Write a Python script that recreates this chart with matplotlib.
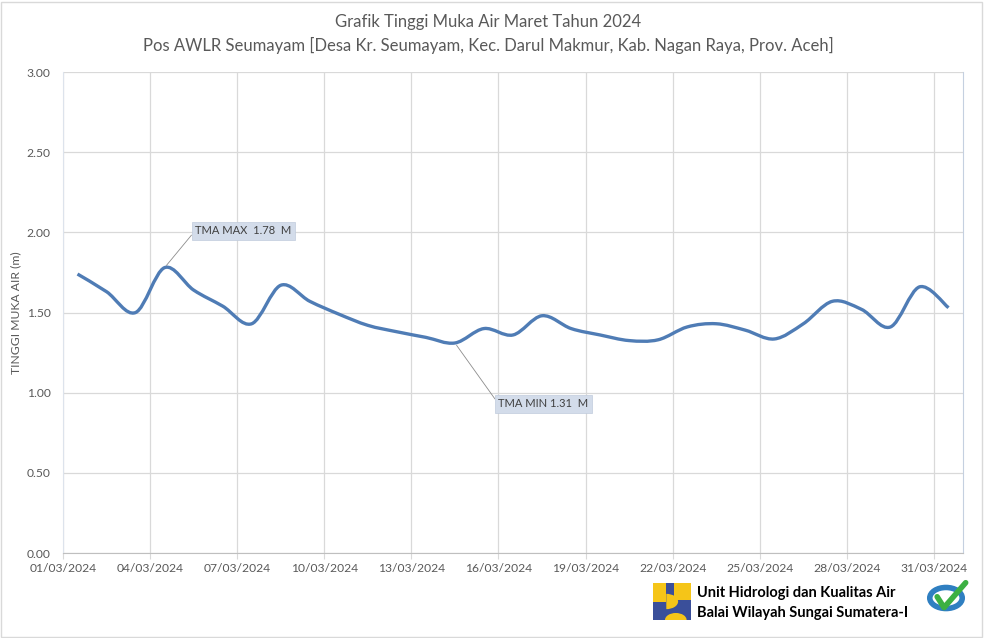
import numpy as np
import matplotlib.pyplot as plt
from matplotlib.path import Path
from matplotlib.patches import PathPatch, Rectangle, Circle, Wedge

# Tinggi muka air harian, Maret 2024 (m)
tma = [1.74, 1.63, 1.50, 1.78, 1.64, 1.54, 1.43, 1.67, 1.57, 1.49,
       1.42, 1.38, 1.345, 1.31, 1.40, 1.36, 1.48, 1.40, 1.36, 1.325,
       1.33, 1.41, 1.43, 1.39, 1.335, 1.43, 1.57, 1.52, 1.41, 1.66, 1.53]
tick_days = list(range(0, 31, 3))
tick_labels = ['%02d/03/2024' % (d + 1) for d in tick_days]
y_ticks = [0.0, 0.5, 1.0, 1.5, 2.0, 2.5, 3.0]

plt.rcParams['font.family'] = ['Lato', 'DejaVu Sans']
grey = '#595959'

fig = plt.figure(figsize=(9.84, 6.38), dpi=100)
ax = fig.add_axes([0.064, 0.1332, 0.9147, 0.7539])

# smoothed line like Excel (Catmull-Rom converted to cubic Bezier)
x = np.arange(len(tma)) + 0.5
y = np.array(tma)
px = np.concatenate([[x[0]], x, [x[-1]]])
py = np.concatenate([[y[0]], y, [y[-1]]])
verts = [(x[0], y[0])]
codes = [Path.MOVETO]
for i in range(len(x) - 1):
    c1 = (px[i + 1] + (px[i + 2] - px[i]) / 6, py[i + 1] + (py[i + 2] - py[i]) / 6)
    c2 = (px[i + 2] - (px[i + 3] - px[i + 1]) / 6, py[i + 2] - (py[i + 3] - py[i + 1]) / 6)
    verts += [c1, c2, (x[i + 1], y[i + 1])]
    codes += [Path.CURVE4] * 3
ax.add_patch(PathPatch(Path(verts, codes), fill=False, edgecolor='#4f7cb5',
                       lw=2.4, capstyle='butt', joinstyle='round', zorder=3))

ax.set_xlim(0, 31)
ax.set_ylim(0, 3)
ax.set_xticks(tick_days)
ax.set_xticklabels(tick_labels)
ax.set_yticks(y_ticks)
ax.set_yticklabels(['%.2f' % v for v in y_ticks])
ax.tick_params(axis='x', length=4, color='#d9d9d9', labelsize=8.7, labelcolor=grey, pad=3)
ax.tick_params(axis='y', length=0, labelsize=8.7, labelcolor=grey, pad=9)
ax.grid(True, color='#d9d9d9', lw=0.9)
ax.set_axisbelow(True)
ax.spines['top'].set_visible(False)
ax.spines['left'].set_color('#dde3ec')
ax.spines['right'].set_color('#c5d0e0')
ax.spines['bottom'].set_color('#bfbfbf')
ax.set_ylabel('TINGGI MUKA AIR (m)', fontsize=8.7, color=grey, labelpad=4)

# data callouts
imax = int(np.argmax(tma))
imin = int(np.argmin(tma))
box = dict(boxstyle='square,pad=0.3', facecolor='#d3dcea', edgecolor='#c0cbdc', lw=0.5)
arrow = dict(arrowstyle='-', color='#8c8c8c', lw=0.6, shrinkA=0, shrinkB=2, relpos=(0, 0.5))
ax.annotate('TMA MAX  %.2f  M' % tma[imax], xy=(x[imax], tma[imax]), xytext=(4.55, 2.01),
            fontsize=8, color='#404040', ha='left', va='center', bbox=box, arrowprops=arrow)
ax.annotate('TMA MIN %.2f  M' % tma[imin], xy=(x[imin], tma[imin]), xytext=(15.0, 0.93),
            fontsize=8, color='#404040', ha='left', va='center', bbox=box, arrowprops=arrow)

fig.text(0.496, 0.966, 'Grafik Tinggi Muka Air Maret Tahun 2024', ha='center', va='center',
         fontsize=12, color=grey)
fig.text(0.496, 0.929, 'Pos AWLR Seumayam [Desa Kr. Seumayam, Kec. Darul Makmur, Kab. Nagan Raya, Prov. Aceh]',
         ha='center', va='center', fontsize=12, color=grey)

# footer: logo + unit name + ISO badge
lx, ly, lw_, lh = 653 / 984, 1 - 620 / 638, 38 / 984, 37 / 638
fig.patches.append(Rectangle((lx, ly), lw_, lh, transform=fig.transFigure, facecolor='#3a4f9a',
                             edgecolor='none'))
fig.patches.append(Rectangle((lx, ly + lh * 0.5), lw_ * 0.35, lh * 0.5, transform=fig.transFigure,
                             facecolor='#f5c518', edgecolor='none'))
fig.patches.append(Wedge((lx + lw_ * 0.35, ly + lh * 0.5), 0.012, -90, 90, transform=fig.transFigure,
                         facecolor='#f5c518', edgecolor='none'))
fig.patches.append(Rectangle((lx + lw_ * 0.55, ly + lh * 0.55), lw_ * 0.45, lh * 0.45,
                             transform=fig.transFigure, facecolor='#f5c518', edgecolor='none'))
fig.patches.append(Wedge((lx + lw_ * 0.6, ly), 0.011, 0, 180, transform=fig.transFigure,
                         facecolor='#f5c518', edgecolor='none'))
fig.text(697 / 984, 1 - 593 / 638, 'Unit Hidrologi dan Kualitas Air', fontsize=10.5,
         fontweight='bold', color='black', va='center', ha='left')
fig.text(697 / 984, 1 - 613 / 638, 'Balai Wilayah Sungai Sumatera-I', fontsize=10.5,
         fontweight='bold', color='black', va='center', ha='left')

cx, cy = 946 / 984, 1 - 598 / 638
fig.patches.append(Circle((cx, cy), 0.0165, transform=fig.transFigure, facecolor='none',
                          edgecolor='#2f7fc1', lw=4))
fig.lines.append(plt.Line2D([cx - 0.009, cx - 0.002, cx + 0.02], [cy + 0.002, cy - 0.015, cy + 0.024],
                            transform=fig.transFigure, color='#3cb043', lw=4, solid_capstyle='round'))

# chart area border
fig.patches.append(Rectangle((0.001, 0.0015), 0.997, 0.996, transform=fig.transFigure,
                             facecolor='none', edgecolor='#d9d9d9', lw=1))

plt.savefig('out.png', dpi=100)
